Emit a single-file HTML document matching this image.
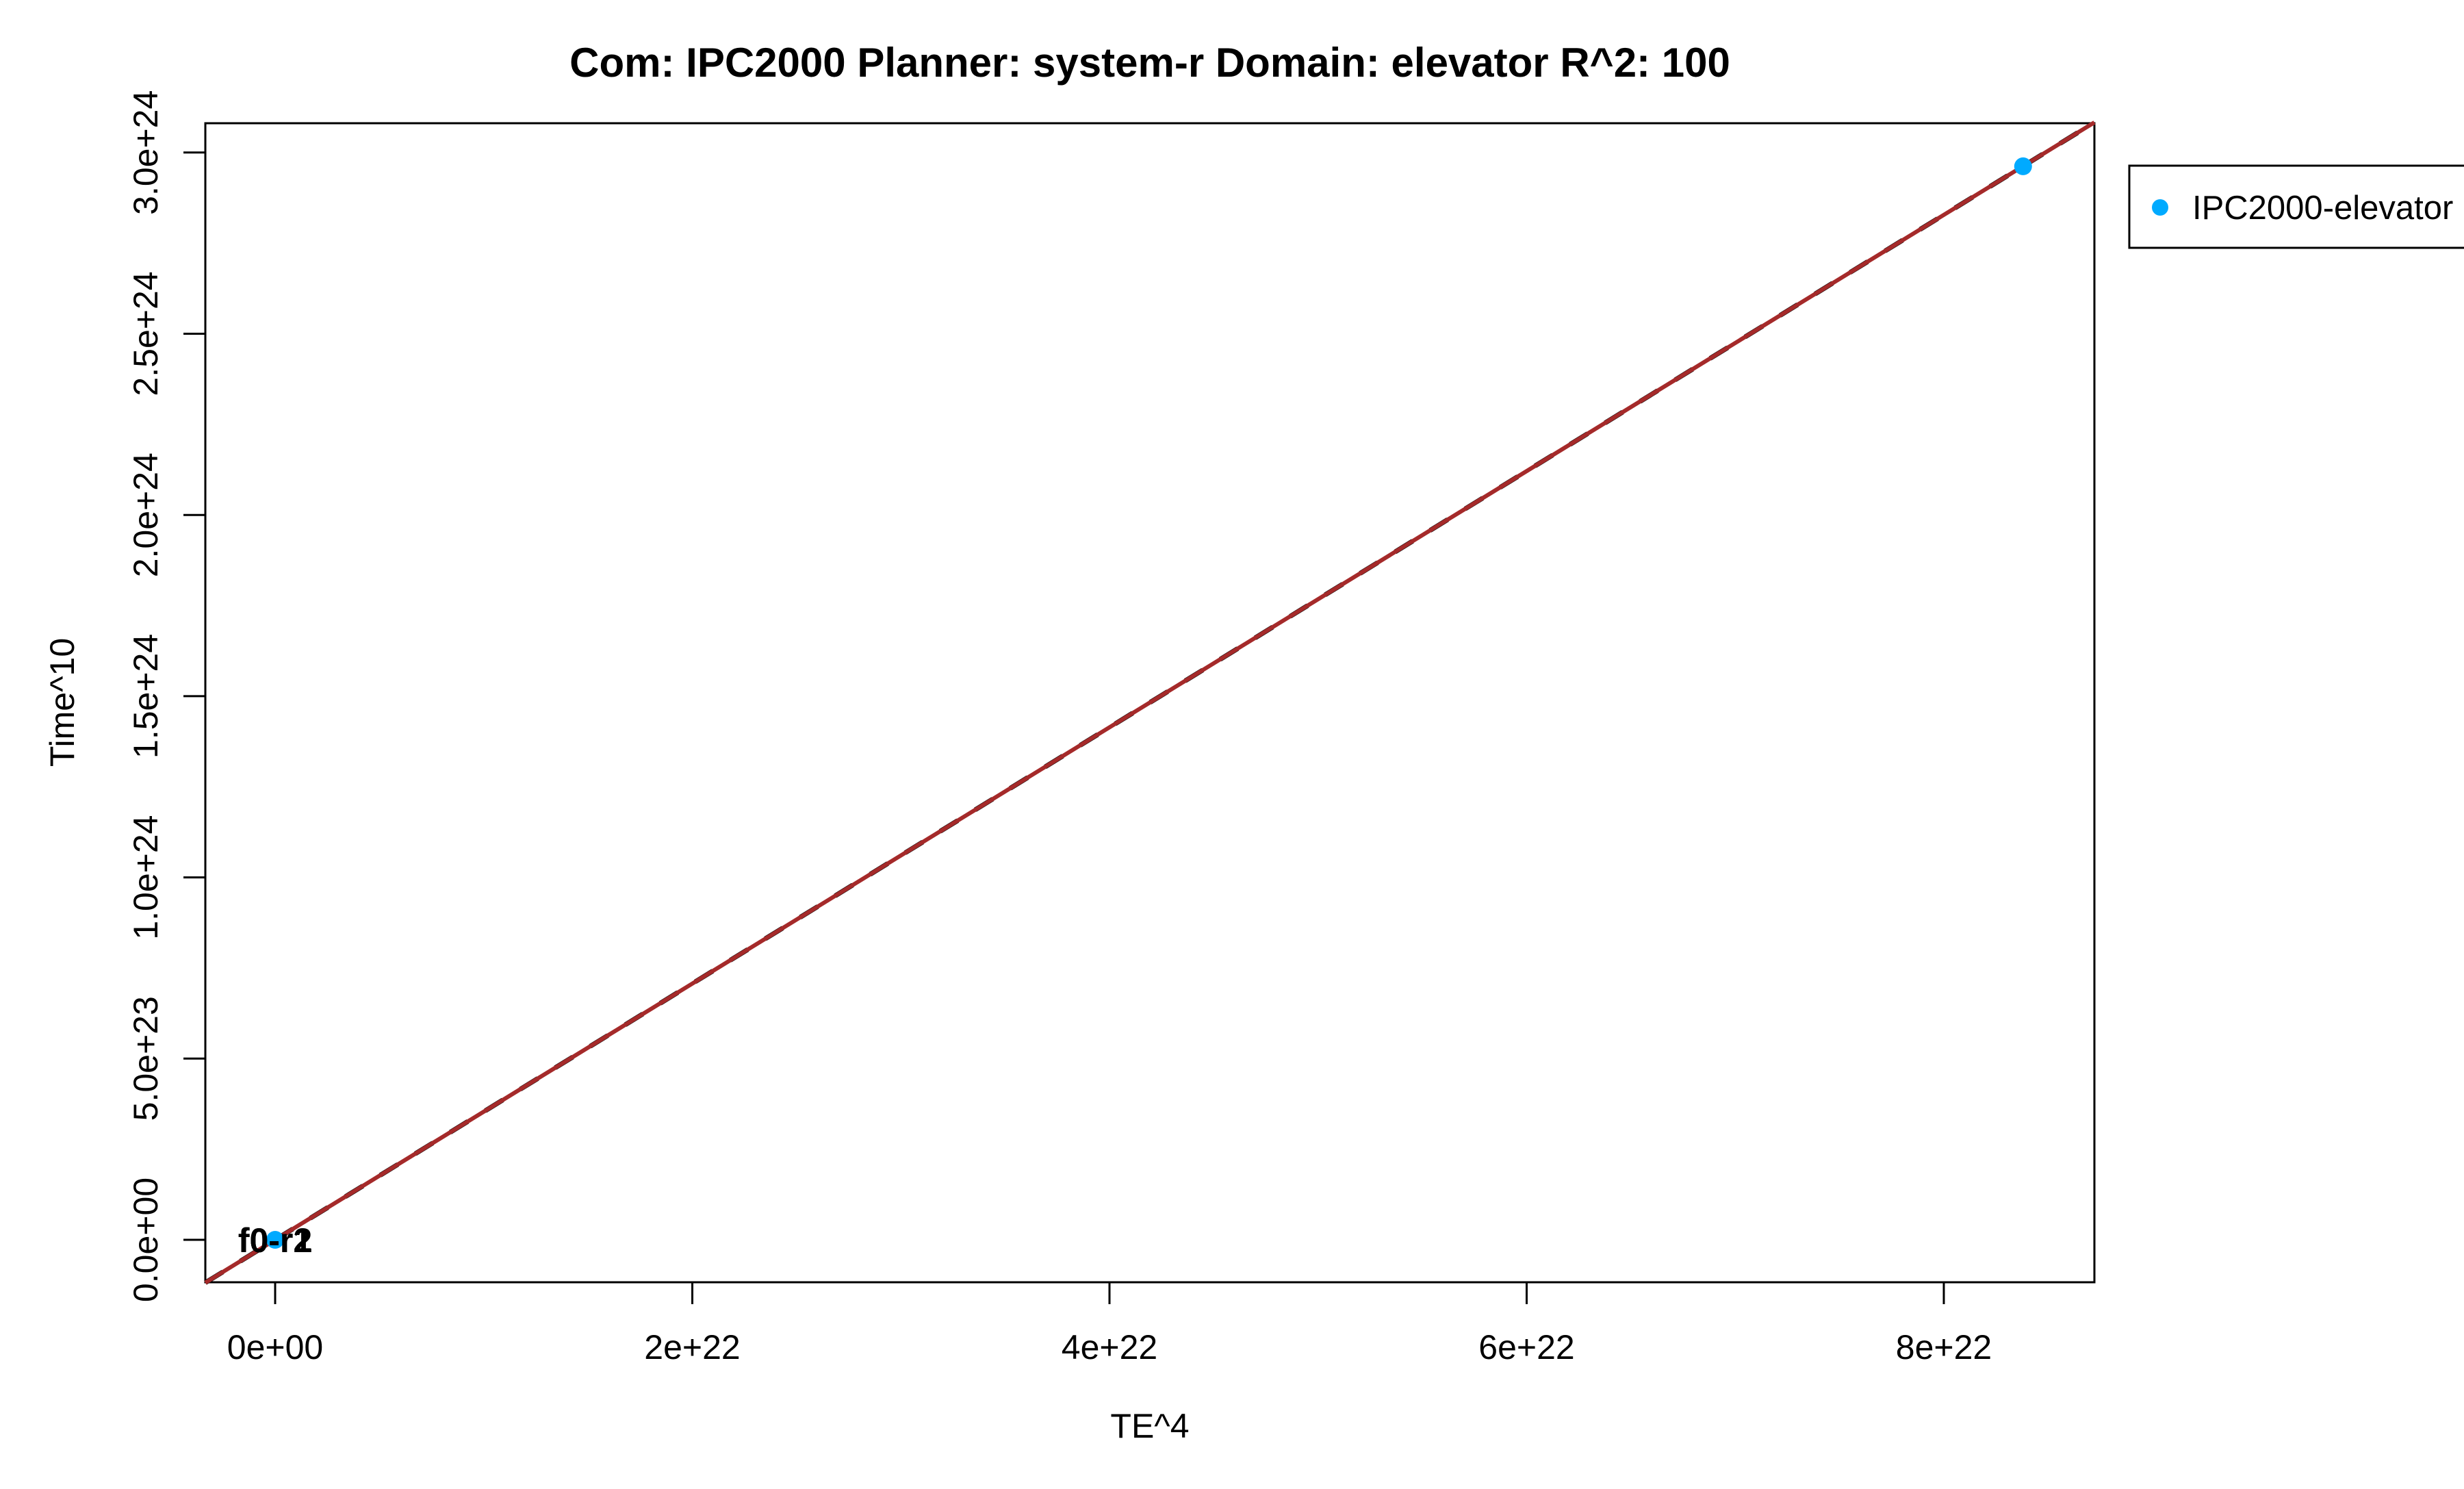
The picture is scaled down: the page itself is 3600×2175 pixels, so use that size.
<!DOCTYPE html>
<html><head><meta charset="utf-8"><style>
html,body{margin:0;padding:0;background:#fff;}
svg{display:block;font-family:"Liberation Sans",Arial,sans-serif;}
</style></head><body>
<svg id="chart" width="3600" height="2175" viewBox="0 0 3600 2175" xmlns="http://www.w3.org/2000/svg">
<text x="1680" y="112" text-anchor="middle" font-size="60" font-weight="bold">Com: IPC2000 Planner: system-r Domain: elevator R^2: 100</text>
<rect x="300" y="180" width="2760" height="1693" fill="none" stroke="#000" stroke-width="3"/>
<g id="xaxis"></g>
<g id="yaxis"></g>
<text x="1680" y="2100" text-anchor="middle" font-size="50">TE^4</text>
<text transform="translate(108,1026) rotate(-90)" text-anchor="middle" font-size="50">Time^10</text>
<g id="marks"></g>
<g>
<rect x="3111" y="242" width="500" height="120" fill="#fff" stroke="#000" stroke-width="3"/>
<circle cx="3156" cy="303" r="12" fill="#00AAFF"/>
<text x="3203" y="320" font-size="49">IPC2000-elevator</text>
</g>
</svg>
<script>
const xTicks=[0,2e22,4e22,6e22,8e22];
const xTickLabels=["0e+00","2e+22","4e+22","6e+22","8e+22"];
const yTicks=[0,5e23,1e24,1.5e24,2e24,2.5e24,3e24];
const yTickLabels=["0.0e+00","5.0e+23","1.0e+24","1.5e+24","2.0e+24","2.5e+24","3.0e+24"];
const pointX=[0,8.38e22];
const pointY=[0,2.962e24];
const labelText=["f0-r1","f0-r2"];
const labelX=[0,0];
const labelY=[0,0];
const fitSlope=[35.35];
const fitIntercept=[0];

const NS="http://www.w3.org/2000/svg";
const L=300,R=3060,T=180,B=1873;
function sx(v){return 402+v/2e22*609.5;}
function sy(v){return 1811-v/5e23*264.7;}
function mk(tag,attrs,parent){const e=document.createElementNS(NS,tag);for(const k in attrs)e.setAttribute(k,attrs[k]);parent.appendChild(e);return e;}
const xa=document.getElementById('xaxis'),ya=document.getElementById('yaxis'),mg=document.getElementById('marks');
xTicks.forEach((v,i)=>{
 const t=mk('line',{x1:sx(v),x2:sx(v),y1:B,y2:B+32,stroke:'#000','stroke-width':3},xa);
 
 
 const l=mk('text',{x:sx(v),y:1985,'text-anchor':'middle','font-size':50},xa);
 l.textContent=xTickLabels[i];
 
 
});
yTicks.forEach((v,i)=>{
 const t=mk('line',{x1:L-32,x2:L,y1:sy(v),y2:sy(v),stroke:'#000','stroke-width':3},ya);
 
 
 const l=mk('text',{transform:`translate(230,${sy(v)}) rotate(-90)`,'text-anchor':'middle','font-size':50},ya);
 l.textContent=yTickLabels[i];
 
 
});
const x0=(L-402)/609.5*2e22, x1=(R-402)/609.5*2e22;
const f=x=>fitIntercept[0]+fitSlope[0]*x;
const dl=mk('line',{x1:sx(x0),y1:sy(f(x0)),x2:sx(x1),y2:sy(f(x1)),stroke:'#000','stroke-width':7,'stroke-dasharray':'30 30'},mg);


const fl=mk('line',{x1:sx(x0),y1:sy(f(x0)),x2:sx(x1),y2:sy(f(x1)),stroke:'#A52A2A','stroke-width':6},mg);


pointX.forEach((v,i)=>{
 const c=mk('circle',{cx:sx(v),cy:sy(pointY[i]),r:13,fill:'#00AAFF'},mg);
 
 
});
labelText.forEach((s,i)=>{
 const t=mk('text',{x:sx(labelX[i]),y:sy(labelY[i])+18,'text-anchor':'middle','font-size':50,'font-weight':'bold'},mg);
 t.textContent=s;
 
 
});
</script>
</body></html>
